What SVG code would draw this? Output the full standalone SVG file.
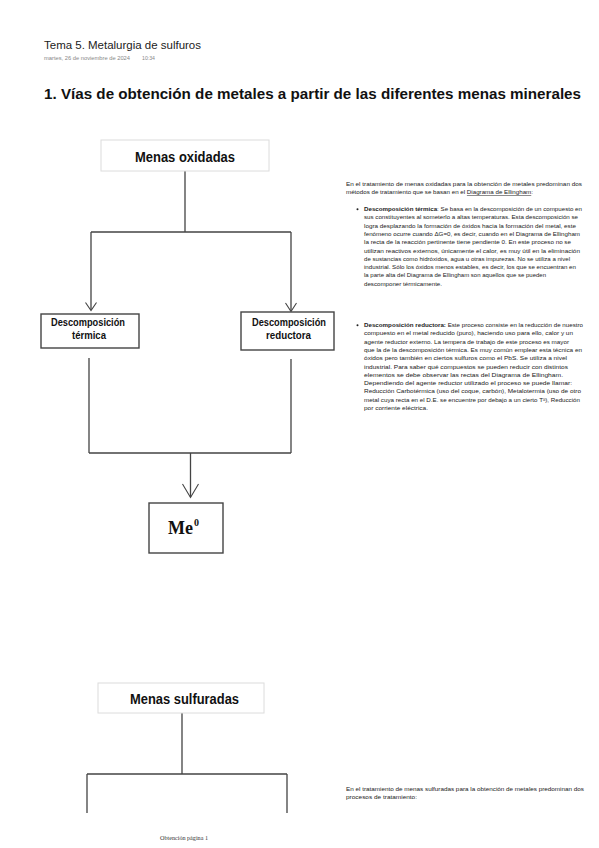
<svg xmlns="http://www.w3.org/2000/svg" width="599" height="848" viewBox="0 0 599 848">
<style>
.hdr{font-family:"Liberation Sans",Arial,sans-serif;fill:#222}
.lbl{font-family:"Liberation Sans",Arial,sans-serif;font-weight:bold;fill:#111;text-anchor:middle}
.p{font-family:"Liberation Sans",Arial,sans-serif;font-size:5.2px;fill:#222}
.b{font-weight:bold}
.top{fill:#fff;stroke:#dcdcdc;stroke-width:1}
.box{fill:#fff;stroke:#444;stroke-width:1.4}
.ln{fill:none;stroke:#444;stroke-width:1.3}
.arr{fill:none;stroke:#444;stroke-width:1.1}
</style>
<rect width="599" height="848" fill="#fff"/>
<text class="hdr" x="44" y="49" font-size="11.3" textLength="157" lengthAdjust="spacingAndGlyphs">Tema 5. Metalurgia de sulfuros</text>
<text class="hdr" x="44" y="60" font-size="4.6" style="fill:#888" textLength="86" lengthAdjust="spacingAndGlyphs">martes, 26 de noviembre de 2024</text>
<text class="hdr" x="142" y="60" font-size="4.6" style="fill:#888" textLength="13" lengthAdjust="spacingAndGlyphs">10:34</text>
<text class="hdr" x="44" y="99" font-size="15" font-weight="bold" style="fill:#111" textLength="537" lengthAdjust="spacingAndGlyphs">1. Vías de obtención de metales a partir de las diferentes menas minerales</text>

<g id="connectors">
<path class="ln" d="M185,171 V232 M91,232 H291 M91,232 V310 M291,232 V311"/>
<path class="arr" d="M85.5,302.5 L91,310.5 L96.5,302.5 M285.5,303 L291,311.5 L296.5,303"/>
<path class="ln" d="M89,358 V453 M291,359 V453 M89,453 H291 M190.5,453 V497"/>
<path class="arr" d="M182.5,484 L190.5,497.5 L198.5,484"/>
<path class="ln" d="M182,713 V774 M87,774 H287 M87,774 V813 M287,774 V813"/>
</g>

<g id="menas-oxidadas">
<rect class="top" x="101" y="140" width="168" height="31"/>
<text class="lbl" x="185" y="162" font-size="14" textLength="100" lengthAdjust="spacingAndGlyphs">Menas oxidadas</text>
</g>
<g id="desc-termica">
<rect class="box" x="41" y="314" width="98" height="34"/>
<text class="lbl" x="88" y="326" font-size="10" textLength="74" lengthAdjust="spacingAndGlyphs">Descomposición</text>
<text class="lbl" x="89" y="339" font-size="10" textLength="34" lengthAdjust="spacingAndGlyphs">térmica</text>
</g>
<g id="desc-reductora">
<rect class="box" x="241" y="312" width="93" height="38"/>
<text class="lbl" x="289" y="326" font-size="10" textLength="74" lengthAdjust="spacingAndGlyphs">Descomposición</text>
<text class="lbl" x="288.5" y="339" font-size="10" textLength="45" lengthAdjust="spacingAndGlyphs">reductora</text>
</g>
<g id="me0">
<rect class="box" x="149" y="503" width="74" height="50"/>
<text x="168" y="534" font-family="'Liberation Serif','Times New Roman',serif" font-weight="bold" font-size="18" fill="#111">Me</text>
<text x="194" y="526" font-family="'Liberation Serif','Times New Roman',serif" font-weight="bold" font-size="10" fill="#111">0</text>
</g>
<g id="menas-sulfuradas">
<rect class="top" x="98" y="683" width="166" height="30"/>
<text class="lbl" x="184.5" y="704" font-size="14" textLength="109" lengthAdjust="spacingAndGlyphs">Menas sulfuradas</text>
</g>

<g id="texto-oxidadas">
<text class="p" x="346" y="186" textLength="236" lengthAdjust="spacingAndGlyphs">En el tratamiento de menas oxidadas para la obtención de metales predominan dos</text>
<text class="p" x="346" y="194" textLength="187" lengthAdjust="spacingAndGlyphs">métodos de tratamiento que se basan en el <tspan text-decoration="underline">Diagrama de Ellingham</tspan>:</text>
<circle cx="357.5" cy="209.3" r="1" fill="#222"/>
<text class="p" x="364" y="211" textLength="218" lengthAdjust="spacingAndGlyphs"><tspan class="b">Descomposición térmica</tspan>: Se basa en la descomposición de un compuesto en</text>
<text class="p" x="364" y="219.3" textLength="214" lengthAdjust="spacingAndGlyphs">sus constituyentes al someterlo a altas temperaturas. Esta descomposición se</text>
<text class="p" x="364" y="227.6" textLength="212" lengthAdjust="spacingAndGlyphs">logra desplazando la formación de óxidos hacia la formación del metal,  este</text>
<text class="p" x="364" y="235.9" textLength="216" lengthAdjust="spacingAndGlyphs">fenómeno ocurre cuando ΔG=0, es decir, cuando en el Diagrama de Ellingham</text>
<text class="p" x="364" y="244.2" textLength="207" lengthAdjust="spacingAndGlyphs">la recta de la reacción pertinente tiene pendiente 0. En este proceso no se</text>
<text class="p" x="364" y="252.5" textLength="216" lengthAdjust="spacingAndGlyphs">utilizan reactivos externos, únicamente el calor,  es muy útil en la eliminación</text>
<text class="p" x="364" y="260.8" textLength="206" lengthAdjust="spacingAndGlyphs">de sustancias como hidróxidos, agua u otras impurezas. No se utiliza a nivel</text>
<text class="p" x="364" y="269.1" textLength="212" lengthAdjust="spacingAndGlyphs">industrial.  Sólo los óxidos menos estables, es decir, los que se encuentran en</text>
<text class="p" x="364" y="277.4" textLength="182" lengthAdjust="spacingAndGlyphs">la parte alta del Diagrama de Ellingham son aquellos que se pueden</text>
<text class="p" x="364" y="285.7" textLength="78" lengthAdjust="spacingAndGlyphs">descomponer térmicamente.</text>
<circle cx="357.5" cy="325.3" r="1" fill="#222"/>
<text class="p" x="364" y="327" textLength="219" lengthAdjust="spacingAndGlyphs"><tspan class="b">Descomposición reductora:</tspan>  Este proceso consiste en la reducción de nuestro</text>
<text class="p" x="364" y="335.3" textLength="209" lengthAdjust="spacingAndGlyphs">compuesto en el metal reducido (puro), haciendo uso para ello, calor y un</text>
<text class="p" x="364" y="343.6" textLength="205" lengthAdjust="spacingAndGlyphs">agente reductor externo. La tempera de trabajo de este proceso es mayor</text>
<text class="p" x="364" y="351.9" textLength="218" lengthAdjust="spacingAndGlyphs">que la de la descomposición térmica. Es muy común emplear esta técnica en</text>
<text class="p" x="364" y="360.2" textLength="203" lengthAdjust="spacingAndGlyphs">óxidos pero también en ciertos sulfuros como el  PbS. Se utiliza a nivel</text>
<text class="p" x="364" y="368.5" textLength="204" lengthAdjust="spacingAndGlyphs">industrial. Para saber qué compuestos se pueden reducir con distintos</text>
<text class="p" x="364" y="376.8" textLength="199" lengthAdjust="spacingAndGlyphs">elementos se debe observar las rectas del Diagrama de Ellingham.</text>
<text class="p" x="364" y="385.1" textLength="208" lengthAdjust="spacingAndGlyphs">Dependiendo del agente reductor utilizado el proceso se puede llamar:</text>
<text class="p" x="364" y="393.4" textLength="217" lengthAdjust="spacingAndGlyphs">Reducción Carbotérmica (uso del coque, carbón), Metalotermia (uso de otro</text>
<text class="p" x="364" y="401.7" textLength="216" lengthAdjust="spacingAndGlyphs">metal cuya recta en el D.E. se encuentre por debajo a un cierto Tª), Reducción</text>
<text class="p" x="364" y="410" textLength="64" lengthAdjust="spacingAndGlyphs">por corriente eléctrica.</text>
</g>

<g id="texto-sulfuradas">
<text class="p" x="346" y="790.5" textLength="238" lengthAdjust="spacingAndGlyphs">En el tratamiento de menas sulfuradas para la obtención de metales predominan dos</text>
<text class="p" x="346" y="798.5" textLength="71" lengthAdjust="spacingAndGlyphs">procesos de tratamiento:</text>
</g>

<text x="184" y="840" font-family="'Liberation Serif','Times New Roman',serif" font-size="5.5" fill="#333" text-anchor="middle" textLength="48" lengthAdjust="spacingAndGlyphs">Obtención página 1</text>
</svg>
